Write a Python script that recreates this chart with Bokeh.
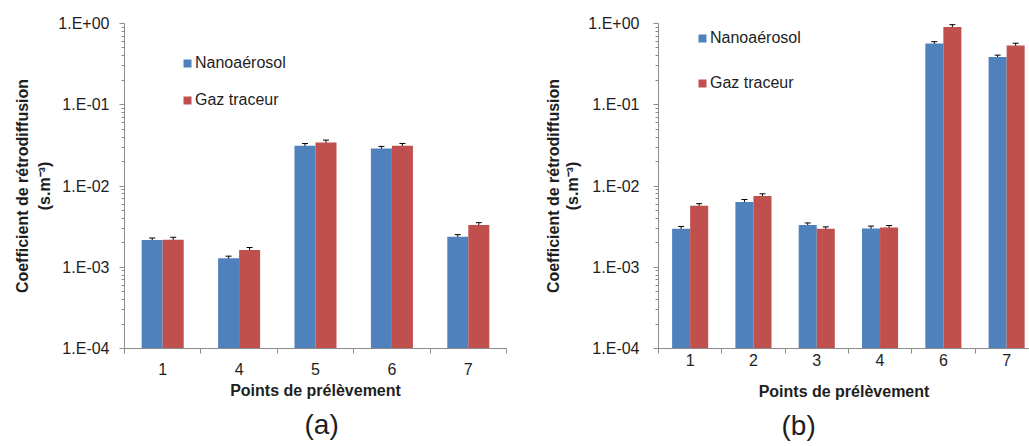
import math
from bokeh.plotting import figure
from bokeh.layouts import row
from bokeh.models import (ColumnDataSource, Range1d, FixedTicker, CustomJSTickFormatter,
                          Whisker, TeeHead, Legend, LegendItem, Title, LogAxis)
from bokeh.embed import file_html
from bokeh.resources import INLINE

# ---------------- data ----------------
points_a = ["1", "4", "5", "6", "7"]
nano_a = [2.16e-3, 1.29e-3, 3.13e-2, 2.90e-2, 2.38e-3]
nano_a_err = [0.00013, 0.00008, 0.0020, 0.0017, 0.00014]
gaz_a = [2.18e-3, 1.63e-3, 3.42e-2, 3.12e-2, 3.30e-3]
gaz_a_err = [0.00016, 0.00012, 0.0025, 0.0022, 0.00024]

points_b = ["1", "2", "3", "4", "6", "7"]
nano_b = [2.97e-3, 6.37e-3, 3.32e-3, 3.00e-3, 0.566, 0.386]
nano_b_err = [0.00021, 0.00045, 0.00019, 0.00021, 0.032, 0.022]
gaz_b = [5.73e-3, 7.54e-3, 2.97e-3, 3.08e-3, 0.905, 0.535]
gaz_b_err = [0.00033, 0.00048, 0.00017, 0.00018, 0.062, 0.037]

series_names = ["Nanoaérosol", "Gaz traceur"]
y_title = "Coefficient de rétrodiffusion"
y_unit = "(s.m⁻³)"
x_title = "Points de prélèvement"
decades = [1e-4, 1e-3, 1e-2, 1e-1, 1.0]

BLUE = "#4F81BD"
RED = "#C0504D"
AXIS = "#8c8c8c"
TXT = "#1e1e1e"
FONT = "Liberation Sans"
H = 446
FRAME_TOP = 23
FRAME_BOTTOM = 350

minor = [k * d for d in decades[:-1] for k in range(2, 10)]

y_fmt_code = """
const e = Math.round(Math.log10(tick));
const s = e < 0 ? "-" : "+";
const a = Math.abs(e);
return "1.E" + s + (a < 10 ? "0" : "") + a;
"""


def style_label(ax, text, standoff):
    ax.axis_label = text
    ax.axis_label_text_font = FONT
    ax.axis_label_text_font_size = "16px"
    ax.axis_label_text_font_style = "bold"
    ax.axis_label_text_color = TXT
    ax.axis_label_standoff = standoff


def panel(points, nano, nano_err, gaz, gaz_err, cfg):
    n = len(points)
    frame_left = cfg["frame_left"]
    width = cfg["width"]
    mbl = frame_left - cfg["page_left"]
    x_end = (width - cfg["mbr"] - mbl) / cfg["cat_px"]

    centers = [i + 0.5 for i in range(n)]
    w = cfg["bar_w"]
    src_n = ColumnDataSource(dict(
        x=[c - w / 2 for c in centers], top=nano,
        upper=[v + e for v, e in zip(nano, nano_err)],
        lower=[v - e for v, e in zip(nano, nano_err)]))
    src_g = ColumnDataSource(dict(
        x=[c + w / 2 for c in centers], top=gaz,
        upper=[v + e for v, e in zip(gaz, gaz_err)],
        lower=[v - e for v, e in zip(gaz, gaz_err)]))

    p = figure(width=width, height=H, output_backend="svg", toolbar_location=None,
               x_range=Range1d(0, x_end), y_range=Range1d(1e-4, 1.0), y_axis_type="log",
               min_border_left=mbl, min_border_right=cfg["mbr"],
               min_border_top=FRAME_TOP, min_border_bottom=H - FRAME_BOTTOM)
    p.outline_line_color = None
    p.grid.visible = False

    r1 = p.vbar(x="x", top="top", bottom=1e-4, width=w, source=src_n,
                fill_color=BLUE, line_color=None)
    r2 = p.vbar(x="x", top="top", bottom=1e-4, width=w, source=src_g,
                fill_color=RED, line_color=None)

    for src in (src_n, src_g):
        p.add_layout(Whisker(base="x", upper="upper", lower="lower", source=src,
                             line_color="black", line_width=1,
                             upper_head=TeeHead(size=6, line_color="black", line_width=1),
                             lower_head=TeeHead(size=6, line_color="black", line_width=1)))

    # y axis (nearest the frame): ticks, tick labels and the unit line
    ya = p.yaxis[0]
    ya.ticker = FixedTicker(ticks=decades, minor_ticks=minor)
    ya.formatter = CustomJSTickFormatter(code=y_fmt_code)
    ya.axis_line_color = AXIS
    ya.major_tick_line_color = AXIS
    ya.minor_tick_line_color = AXIS
    ya.major_tick_out = 5
    ya.major_tick_in = 0
    ya.minor_tick_out = 3
    ya.minor_tick_in = 0
    ya.major_label_text_font = FONT
    ya.major_label_text_font_size = "16px"
    ya.major_label_text_color = TXT
    ya.major_label_standoff = cfg["y_standoff"]
    style_label(ya, y_unit, cfg["unit_standoff"])

    # outer, label-only axis carrying the first title line
    ya2 = LogAxis(ticker=FixedTicker(ticks=[]), axis_line_color=None,
                  major_tick_out=0, major_tick_in=0, minor_tick_out=0, minor_tick_in=0,
                  major_label_standoff=0, major_label_text_font_size="1px",
                  major_label_text_alpha=0)
    style_label(ya2, y_title, cfg["title_standoff"])
    p.add_layout(ya2, "left")

    # x axis
    xa = p.xaxis[0]
    xa.ticker = FixedTicker(ticks=centers, minor_ticks=list(range(0, n + 1)))
    xa.formatter = CustomJSTickFormatter(args=dict(labels=points),
                                         code="return labels[Math.floor(tick)];")
    xa.axis_line_color = AXIS
    xa.major_tick_out = 0
    xa.major_tick_in = 0
    xa.minor_tick_line_color = AXIS
    xa.minor_tick_out = 5
    xa.minor_tick_in = 0
    xa.major_label_text_font = FONT
    xa.major_label_text_font_size = "16px"
    xa.major_label_text_color = TXT
    xa.major_label_standoff = cfg["x_standoff"]
    style_label(xa, x_title, cfg["xlab_standoff"])

    # panel letter
    p.add_layout(Title(text=cfg["letter"], align="left", offset=cfg["letter_offset"],
                       standoff=11, text_font=FONT, text_font_size="28px",
                       text_font_style="normal", text_color=TXT), "below")

    # legend
    legend = Legend(items=[LegendItem(label=series_names[0], renderers=[r1]),
                           LegendItem(label=series_names[1], renderers=[r2])],
                    location=cfg["legend_loc"], orientation="vertical",
                    glyph_width=10, glyph_height=10, label_height=20,
                    label_standoff=3, spacing=cfg["legend_spacing"],
                    padding=0, margin=0, border_line_color=None,
                    background_fill_alpha=0,
                    label_text_font=FONT, label_text_font_size="16px",
                    label_text_color=TXT)
    p.add_layout(legend)
    return p


cfg_a = dict(page_left=0, width=520, frame_left=124, cat_px=76.4, mbr=14, bar_w=0.275,
             y_standoff=10, x_standoff=9, unit_standoff=2, title_standoff=3,
             xlab_standoff=4, legend_loc=(58, 238), legend_spacing=17,
             letter="(a)", letter_offset=180)
cfg_b = dict(page_left=520, width=509, frame_left=658, cat_px=63.3, mbr=0, bar_w=0.285,
             y_standoff=14, x_standoff=0, unit_standoff=4, title_standoff=0,
             xlab_standoff=14, legend_loc=(39, 255), legend_spacing=25,
             letter="(b)", letter_offset=123)

pa = panel(points_a, nano_a, nano_a_err, gaz_a, gaz_a_err, cfg_a)
pb = panel(points_b, nano_b, nano_b_err, gaz_b, gaz_b_err, cfg_b)

layout = row(pa, pb)
open("out.html", "w").write(file_html(layout, INLINE))
